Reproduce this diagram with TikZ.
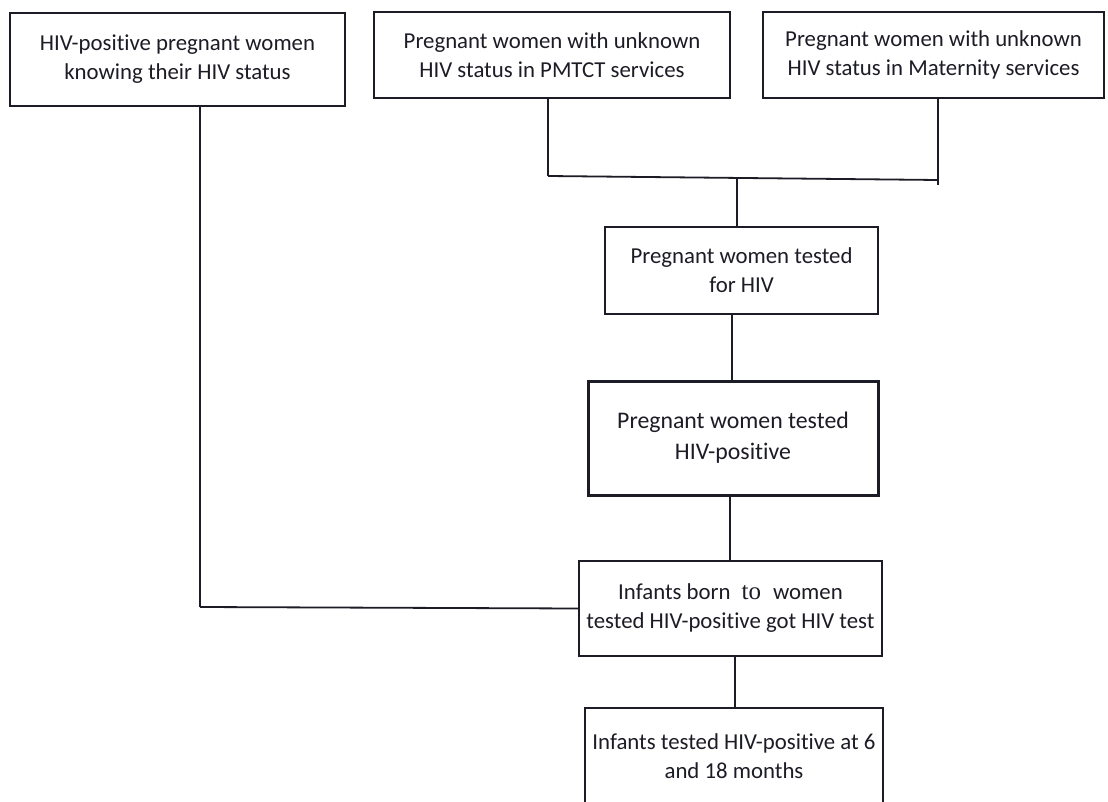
\documentclass[tikz,border=0pt]{standalone}
\usepackage{fontspec}
\setmainfont{Carlito}[Ligatures=NoCommon]
\newfontfamily\serifto{Liberation Serif}
\definecolor{ink}{HTML}{1C1C26}
\tikzset{
   box/.style={draw=ink, line width=1.8pt, align=center, inner sep=0pt,
      font=\fontsize{22.8}{29}\selectfont, text=ink},
   link/.style={draw=ink, line width=1.8pt}
}
\begin{document}
\begin{tikzpicture}[x=1pt, y=-1pt]
      \clip (0,0) rectangle (1108,802);
      \fill[white] (0,0) rectangle (1108,802);
      \def \Boxes {
         a/177.5/59.5/335/93/{HIV-positive pregnant women\\knowing their HIV status},
         b/552/55/356/86/{Pregnant women with unknown\\HIV status in PMTCT services},
         c/933.5/55/341/86/{Pregnant women with unknown\\HIV status in Maternity services},
         d/741.5/270.5/273/87/{Pregnant women tested\\for HIV},
         f/730.5/608.5/303/95/{Infants born\hspace{11pt}{\serifto\fontsize{25}{29}\selectfont to}\hspace{12pt}women\\tested HIV-positive got HIV test},
         g/734/756/298/96/{Infants tested HIV-positive at 6\\and 18 months}}
      \foreach \u / \x / \y / \w / \h / \t in \Boxes {
         \node[box, minimum width=\w pt, minimum height=\h pt] (\u) at (\x, \y) {\t};
      }
      \node[box, line width=3pt, font=\fontsize{23.8}{31}\selectfont,
         minimum width=290pt, minimum height=114pt] (e) at (733, 438)
         {Pregnant women tested\\HIV-positive};
      % junctions
      \coordinate (bj) at (548, 176);
      \coordinate (cj) at (938, 180);
      \coordinate (ce) at (938, 185);
      \coordinate (mj) at (737, 178);
      \coordinate (dj) at (732, 0);
      \coordinate (ej) at (730, 0);
      \coordinate (fj) at (735, 0);
      \coordinate (aj) at (200, 607);
      \def \Edges {
         b.south -| bj/bj,
         bj/cj,
         c.south -| ce/ce,
         mj/d.north -| mj,
         d.south -| dj/e.north -| dj,
         e.south -| ej/f.north -| ej,
         a.south -| aj/aj,
         aj/f.west,
         f.south -| fj/g.north -| fj}
      \foreach \u / \v in \Edges {
         \path[link] (\u) -- (\v);
      }
   \end{tikzpicture}
\end{document}
